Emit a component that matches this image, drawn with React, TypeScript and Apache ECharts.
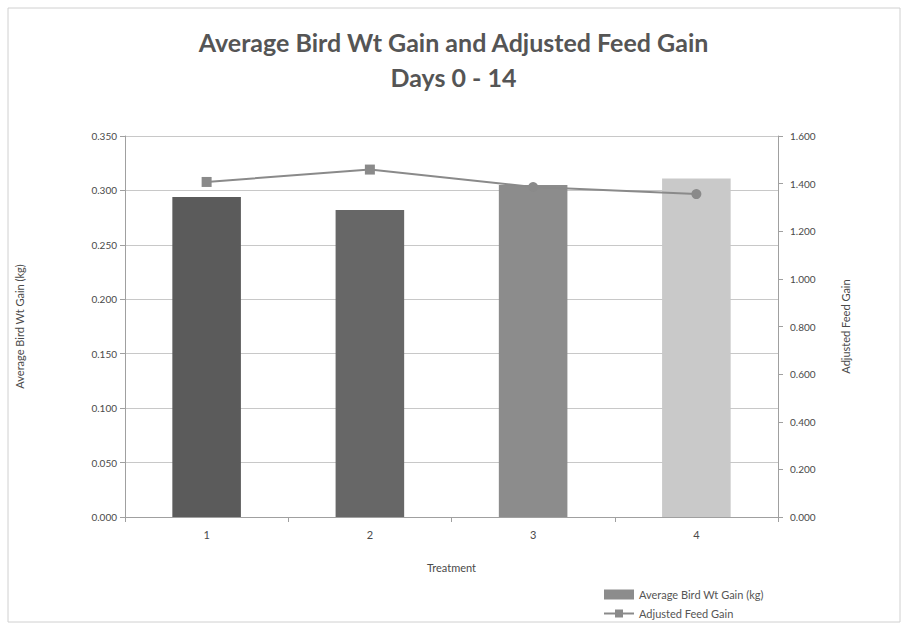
import React, { useEffect, useRef } from "react";
import * as echarts from "echarts";

const categories = ["1", "2", "3", "4"];
const birdWtGain = [0.294, 0.282, 0.305, 0.311];
const adjustedFeedGain = [1.407, 1.459, 1.386, 1.356];
const barColors = ["#5b5b5b", "#676767", "#8c8c8c", "#c9c9c9"];
const lineSymbols = ["rect", "rect", "circle", "circle"];

export default function App() {
  const ref = useRef<HTMLDivElement>(null);
  useEffect(() => {
    document.body.style.margin = "0";
    const chart = echarts.init(ref.current!, undefined, { renderer: "svg" });
    const font = "Lato";
    chart.setOption({
      animation: false,
      backgroundColor: "#ffffff",
      textStyle: { fontFamily: font },
      graphic: [
        {
          type: "rect",
          shape: { x: 8, y: 8, width: 892, height: 614 },
          style: { fill: "none", stroke: "#d0d0d0", lineWidth: 1 },
          silent: true,
        },
      ],
      title: {
        text: "Average Bird Wt Gain and Adjusted Feed Gain\nDays 0 - 14",
        left: "center",
        top: 19,
        textStyle: { fontFamily: font, fontSize: 25, fontWeight: "bold", color: "#555555", lineHeight: 35 },
      },
      grid: { left: 125, right: 129, top: 136, bottom: 113, containLabel: false },
      legend: {
        orient: "vertical",
        left: 598,
        top: 584,
        itemGap: 8,
        itemWidth: 30,
        itemHeight: 10,
        textStyle: { fontSize: 11, color: "#555555" },
        data: [
          { name: "Average Bird Wt Gain (kg)", icon: "rect", itemStyle: { color: "#8c8c8c" } },
          { name: "Adjusted Feed Gain" },
        ],
      },
      xAxis: {
        type: "category",
        data: categories,
        name: "Treatment",
        nameLocation: "middle",
        nameGap: 45,
        nameTextStyle: { fontSize: 11, color: "#4a4a4a" },
        axisLine: { lineStyle: { color: "#a0a0a0" } },
        axisTick: { show: true, alignWithLabel: false, lineStyle: { color: "#a0a0a0" } },
        axisLabel: { fontSize: 11, color: "#4a4a4a", margin: 12 },
      },
      yAxis: [
        {
          type: "value",
          min: 0,
          max: 0.35,
          interval: 0.05,
          name: "Average Bird Wt Gain (kg)",
          nameLocation: "middle",
          nameGap: 100,
          nameRotate: 90,
          nameTextStyle: { fontSize: 11, color: "#4a4a4a" },
          axisLine: { show: true, lineStyle: { color: "#a0a0a0" } },
          axisTick: { show: true, lineStyle: { color: "#a0a0a0" } },
          axisLabel: { fontSize: 10, color: "#4a4a4a", formatter: (v: number) => v.toFixed(3), margin: 8 },
          splitLine: { lineStyle: { color: "#c8c8c8" } },
        },
        {
          type: "value",
          min: 0,
          max: 1.6,
          interval: 0.2,
          name: "Adjusted Feed Gain",
          nameLocation: "middle",
          nameGap: 62,
          nameRotate: 90,
          nameTextStyle: { fontSize: 11, color: "#4a4a4a" },
          axisLine: { show: true, lineStyle: { color: "#a0a0a0" } },
          axisTick: { show: true, lineStyle: { color: "#a0a0a0" } },
          axisLabel: { fontSize: 10, color: "#4a4a4a", formatter: (v: number) => v.toFixed(3), margin: 12 },
          splitLine: { show: false },
        },
      ],
      series: [
        {
          name: "Average Bird Wt Gain (kg)",
          type: "bar",
          yAxisIndex: 0,
          barWidth: "42%",
          itemStyle: { color: "#8c8c8c" },
          data: birdWtGain.map((v, i) => ({ value: v, itemStyle: { color: barColors[i] } })),
        },
        {
          name: "Adjusted Feed Gain",
          type: "line",
          yAxisIndex: 1,
          symbol: "rect",
          symbolSize: 10,
          itemStyle: { color: "#8a8a8a" },
          lineStyle: { color: "#8a8a8a", width: 2 },
          data: adjustedFeedGain.map((v, i) => ({ value: v, symbol: lineSymbols[i] })),
        },
      ],
    });
    return () => chart.dispose();
  }, []);
  return <div ref={ref} style={{ width: 907, height: 630 }} />;
}
